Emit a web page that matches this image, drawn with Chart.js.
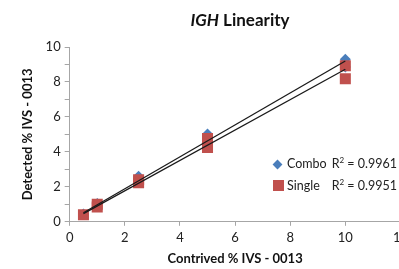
<!DOCTYPE html>
<html>
<head>
<meta charset="utf-8">
<script src="https://cdn.jsdelivr.net/npm/chart.js@4.4.1/dist/chart.umd.min.js"></script>
<style>
  html, body { margin: 0; padding: 0; background: #fff; overflow: hidden; }
  #wrap { position: absolute; left: 0; top: 0; width: 412px; height: 269px; }
  .title { position: absolute; left: 0; width: 480px; top: 9px; text-align: center;
           font: bold 17px Lato, sans-serif; color: #111; }
  .legend { position: absolute; left: 0; top: 154px; width: 399px; font: 12.5px Lato, sans-serif; color: #222; }
  .row { position: relative; height: 22px; line-height: 20px; white-space: nowrap; }
  .row span { position: absolute; }
  .row .r2 { right: 2px; }
  .dia { width: 7px; height: 7px; background: #4a7ebb; transform: rotate(45deg); top: 7px; left: 274px; }
  .sq { width: 11px; height: 11px; background: #c0504d; top: 4px; left: 273px; }
  sup { font-size: 8px; line-height: 0; }
</style>
</head>
<body>
<div id="wrap"><canvas id="chartLinearity"></canvas></div>
<div class="title"><i>IGH</i> Linearity</div>
<div class="legend">
  <div class="row"><span class="dia"></span><span style="left:287px">Combo</span><span class="r2">R<sup>2</sup> = 0.9961</span></div>
  <div class="row"><span class="sq"></span><span style="left:287px">Single</span><span class="r2">R<sup>2</sup> = 0.9951</span></div>
</div>
<script>
const xTicks = [0, 2, 4, 6, 8, 10, 12];
const yTicks = [0, 2, 4, 6, 8, 10];

const comboX = [0.5, 1, 2.5, 5, 10, 10];
const comboY = [0.45, 1.05, 2.6, 5.03, 9.3, 8.85];

const singleX = [0.5, 1, 1, 2.5, 2.5, 5, 5, 10, 10];
const singleY = [0.4, 1.0, 0.85, 2.4, 2.23, 4.77, 4.25, 8.93, 8.18];

// trendline endpoints
const comboTrendX = [0.5, 10];
const comboTrendY = [0.52, 9.2];
const singleTrendX = [0.5, 10];
const singleTrendY = [0.47, 8.73];

const pts = (xs, ys) => xs.map((x, i) => ({ x: x, y: ys[i] }));

const ctx = document.getElementById('chartLinearity').getContext('2d');

new Chart(ctx, {
    type: 'scatter',
    data: {
        datasets: [{
            label: 'Combo trend',
            type: 'line',
            data: pts(comboTrendX, comboTrendY),
            borderColor: '#1a1a1a',
            borderWidth: 1.3,
            pointRadius: 0,
            fill: false,
            order: 0
        }, {
            label: 'Single trend',
            type: 'line',
            data: pts(singleTrendX, singleTrendY),
            borderColor: '#1a1a1a',
            borderWidth: 1.3,
            pointRadius: 0,
            fill: false,
            order: 0
        }, {
            label: 'Single',
            data: pts(singleX, singleY),
            pointStyle: 'rect',
            pointRadius: 7.8,
            backgroundColor: '#c0504d',
            borderColor: '#c0504d',
            borderWidth: 0,
            order: 1
        }, {
            label: 'Combo',
            data: pts(comboX, comboY),
            pointStyle: 'rectRot',
            pointRadius: 5.5,
            backgroundColor: '#4a7ebb',
            borderColor: '#4a7ebb',
            borderWidth: 0,
            order: 2
        }]
    },
    options: {
        responsive: true,
        maintainAspectRatio: false,
        animation: false,
        layout: { padding: { top: 47, left: 20, right: 0, bottom: 2 } },
        plugins: {
            legend: { display: false },
            tooltip: { enabled: false }
        },
        scales: {
            x: {
                type: 'linear',
                min: xTicks[0],
                max: xTicks[xTicks.length - 1],
                afterBuildTicks: axis => { axis.ticks = xTicks.map(v => ({ value: v })); },
                ticks: { color: '#222', font: { family: 'Lato', size: 13 }, padding: 4 },
                grid: { drawOnChartArea: false, drawTicks: true, tickLength: 4, color: '#a6a6a6' },
                border: { color: '#a6a6a6' },
                title: {
                    display: true,
                    text: 'Contrived % IVS - 0013',
                    color: '#111',
                    font: { family: 'Lato', size: 13, weight: 'bold' },
                    padding: { top: 2, bottom: 0 }
                }
            },
            y: {
                min: 0,
                max: 10,
                ticks: {
                    stepSize: 1,
                    autoSkip: false,
                    color: '#222',
                    font: { family: 'Lato', size: 13 },
                    padding: 4,
                    callback: v => yTicks.includes(v) ? v : ''
                },
                grid: { drawOnChartArea: false, drawTicks: true, tickLength: 5, color: '#a6a6a6' },
                border: { color: '#a6a6a6' },
                title: {
                    display: true,
                    text: 'Detected % IVS - 0013',
                    color: '#111',
                    font: { family: 'Lato', size: 13, weight: 'bold' },
                    padding: { top: 0, bottom: 6 }
                }
            }
        }
    }
});
</script>
</body>
</html>
